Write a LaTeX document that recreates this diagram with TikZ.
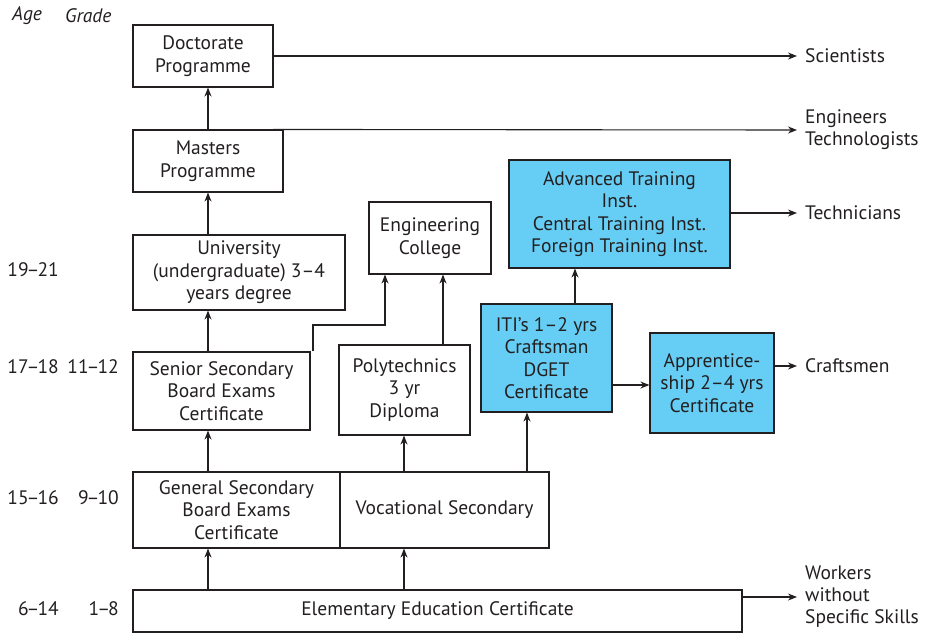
\documentclass[tikz,border=0pt]{standalone}
\usepackage{fontspec}
\setmainfont{PT Sans}
\usetikzlibrary{arrows.meta}
\definecolor{ink}{HTML}{231F20}
\definecolor{bluebox}{RGB}{102,206,245}
\newcommand\agerng[2]{#1\kern-2pt--\kern-2pt#2}
\tikzset{
  box/.style={draw=ink, line width=1.1pt, rectangle, align=center, inner sep=0pt, text=ink,
    font=\fontsize{19.5}{22.5}\selectfont},
  bluefill/.style={box, fill=bluebox},
  arr/.style={draw=ink, line width=1.1pt, -{Stealth[length=9pt,width=7pt]}},
  outlbl/.style={anchor=west, align=left, inner xsep=5pt, inner ysep=0pt, text=ink,
    font=\fontsize{19.5}{22}\selectfont},
  sidelbl/.style={inner sep=0pt, text=ink, font=\fontsize{19.5}{22}\selectfont},
}
\begin{document}
\begin{tikzpicture}[x=1pt,y=-1pt]
\useasboundingbox (0,0) rectangle (929,633);
% boxes
\node[box, minimum width=140, minimum height=62] (doc) at (203,56) {Doctorate\\Programme};
\node[box, minimum width=150, minimum height=62] (mas) at (208,161) {Masters\\Programme};
\node[box, minimum width=212, minimum height=75] (uni) at (239,272.5) {University\\(undergraduate) 3--4\\years degree};
\node[box, minimum width=122, minimum height=72] (eng) at (430,238) {Engineering\\College};
\node[bluefill, minimum width=221, minimum height=108] (adv) at (619.5,214) {Advanced Training\\Inst.\\Central Training Inst.\\Foreign Training Inst.};
\node[bluefill, minimum width=131, minimum height=108] (iti) at (546.5,358) {ITI’s 1--2 yrs\\Craftsman\\DGET\\Certificate};
\node[bluefill, minimum width=124, minimum height=100] (app) at (712,383) {Apprentice-\\ship 2--4 yrs\\Certificate};
\node[box, minimum width=177, minimum height=78] (sen) at (221.5,391) {Senior Secondary\\Board Exams\\Certificate};
\node[box, minimum width=131, minimum height=90] (pol) at (404.5,390) {Polytechnics\\3 yr\\Diploma};
\node[box, minimum width=207, minimum height=76] (gen) at (236.5,510) {General Secondary\\Board Exams\\Certificate};
\node[box, minimum width=209, minimum height=76] (voc) at (444.5,510) {Vocational Secondary};
\node[box, minimum width=609, minimum height=42] (ele) at (437.5,611) {Elementary Education Certificate};
% outcome labels
\node[outlbl] (sci) at (800,56) {Scientists};
\node[outlbl] (engr) at (800,130) {Engineers\\Technologists};
\node[outlbl] (tech) at (800,213) {Technicians};
\node[outlbl] (craft) at (800,366) {Craftsmen};
\node[outlbl] (work) at (800,597) {Workers\\without\\Specific Skills};
% side labels
\node[sidelbl, anchor=west, font=\fontsize{19.5}{22}\selectfont\itshape] (age) at (12,16) {Age};
\node[sidelbl, anchor=west, font=\fontsize{19.5}{22}\selectfont\itshape] (grade) at (65,16) {Grade};
\node[sidelbl, anchor=east] (a1) at (59,270) {\agerng{19}{21}};
\node[sidelbl, anchor=east] (a2) at (59,367) {\agerng{17}{18}};
\node[sidelbl, anchor=east] (g2) at (119,367) {\agerng{11}{12}};
\node[sidelbl, anchor=east] (a3) at (59,498) {\agerng{15}{16}};
\node[sidelbl, anchor=east] (g3) at (119,498) {\agerng{9}{10}};
\node[sidelbl, anchor=east] (a4) at (59,609) {\agerng{6}{14}};
\node[sidelbl, anchor=east] (g4) at (119,609) {\agerng{1}{8}};
% column coordinates
\coordinate (c1) at (208,0);
\coordinate (c2) at (404,0);
\coordinate (c3) at (527,0);
\coordinate (c4) at (575,0);
\coordinate (c5) at (443,0);
\coordinate (c6) at (313,0);
\coordinate (c7) at (385,0);
\coordinate (c8) at (273,0);
\coordinate (bend) at (0,325);
\coordinate (itirow) at (0,385);
% vertical arrows
\draw[arr] (mas.north -| c1) -- (doc.south -| c1);
\draw[arr] (uni.north -| c1) -- (mas.south -| c1);
\draw[arr] (sen.north -| c1) -- (uni.south -| c1);
\draw[arr] (gen.north -| c1) -- (sen.south -| c1);
\draw[arr] (ele.north -| c1) -- (gen.south -| c1);
\draw[arr] (ele.north -| c2) -- (voc.south -| c2);
\draw[arr] (voc.north -| c2) -- (pol.south -| c2);
\draw[arr] (voc.north -| c3) -- (iti.south -| c3);
\draw[arr] (iti.north -| c4) -- (adv.south -| c4);
\draw[arr] (pol.north -| c5) -- (eng.south -| c5);
\draw[arr] (sen.north -| c6) -- (bend -| c6) -- (bend -| c7) -- (eng.south -| c7);
\draw[arr] (iti.east |- itirow) -- (app.west |- itirow);
% outcome arrows
\draw[arr, shorten >=3pt] (doc.east) -- (sci.west);
\draw[arr, shorten >=3pt] (mas.north -| c8) -- (engr.west);
\draw[arr, shorten >=3pt] (adv.east |- tech.west) -- (tech.west);
\draw[arr, shorten >=3pt] (app.east |- craft.west) -- (craft.west);
\draw[arr, shorten >=3pt] (ele.east |- work.west) -- (work.west);
\end{tikzpicture}
\end{document}
